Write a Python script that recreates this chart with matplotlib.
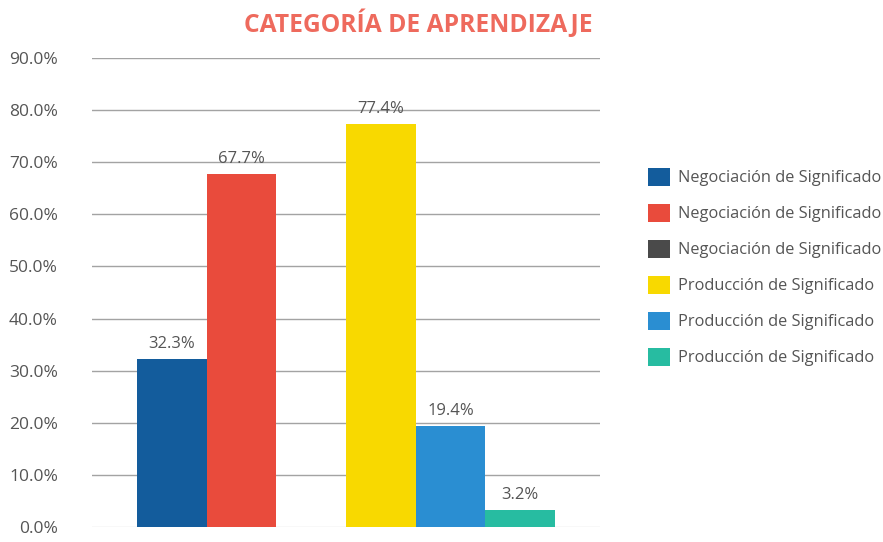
import matplotlib
matplotlib.use("Agg")
import matplotlib.pyplot as plt
from matplotlib.ticker import FuncFormatter
from matplotlib.patches import Patch

plt.rcParams['font.family'] = ['Open Sans', 'DejaVu Sans']

title = "CATEGORÍA DE APRENDIZAJE"
series_labels = [
    "Negociación de Significado",
    "Negociación de Significado",
    "Negociación de Significado",
    "Producción de Significado",
    "Producción de Significado",
    "Producción de Significado",
]
series_group = [0, 0, 0, 1, 1, 1]
series_slot = [0, 1, 2, 0, 1, 2]
series_values = [32.3, 67.7, 0.0, 77.4, 19.4, 3.2]
series_colors = ["#135C9C", "#E94B3C", "#4A4A4A", "#F8D900", "#2A8ED2", "#27BCA1"]
yticks = [0, 10, 20, 30, 40, 50, 60, 70, 80, 90]

W, H = 883, 542
fig = plt.figure(figsize=(W / 100, H / 100), dpi=100)
ax = fig.add_axes([92 / W, 1 - 527 / H, (600 - 92) / W, (527 - 58) / H])

bw = 1 / 3
for lab, g, s, v, c in zip(series_labels, series_group, series_slot, series_values, series_colors):
    x = g + (s - 1) * bw
    ax.bar(x, v, width=bw, color=c, linewidth=0, zorder=3)
    if v > 0:
        ax.annotate(f"{v:.1f}%", (x, v), xytext=(0, 5), textcoords="offset points",
                    ha="center", va="bottom", fontsize=12, color="#555555", zorder=4)

margin = 45 / ((555 - 137) / 2)
ax.set_xlim(-0.5 - margin, 1.5 + margin)
ax.set_ylim(0, 90)
ax.set_yticks(yticks)
ax.yaxis.set_major_formatter(FuncFormatter(lambda v, p: f"{v:.1f}%"))
ax.set_xticks([])
for sp in ax.spines.values():
    sp.set_visible(False)
ax.tick_params(axis="y", length=0, pad=24.5, labelsize=12.5, labelcolor="#555555")
for t in yticks:
    ax.axhline(t, color="#DDDDDD" if t == 0 else "#A3A3A3", linewidth=1, zorder=1)

fig.text(418 / W, 1 - 24 / H, title, ha="center", va="center", fontsize=17.7,
         fontweight="bold", color="#EE6A5D")

handles = [Patch(facecolor=c, edgecolor="none") for c in series_colors]
fig.legend(handles, series_labels, loc="center left", bbox_to_anchor=(648 / W, 1 - 267 / H),
           frameon=False, fontsize=11.8, handlelength=1.34, handleheight=1.34,
           handletextpad=0.5, labelspacing=1.06, borderpad=0, borderaxespad=0,
           labelcolor="#555555")

fig.savefig("out.png", dpi=100)
